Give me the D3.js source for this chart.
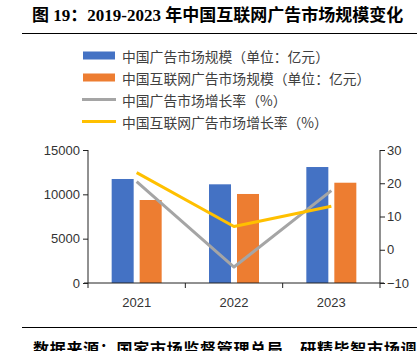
<!DOCTYPE html>
<html>
<head>
<meta charset="utf-8">
<script src="https://cdn.jsdelivr.net/npm/d3@7"></script>
<style>
  body { margin: 0; background: #fff; }
  svg { display: block; }
</style>
</head>
<body>
<div id="chart"></div>
<script>
// dati
const years = ['2021', '2022', '2023'];
const adMarket = [11730, 11130, 13080];        // 中国广告市场规模（亿元）
const netAdMarket = [9360, 10040, 11310];      // 中国互联网广告市场规模（亿元）
const adGrowth = [20.5, -5.2, 17.8];           // 中国广告市场增长率（%）
const netAdGrowth = [23.2, 7.0, 13.1];         // 中国互联网广告市场增长率（%）
const leftTicks = [0, 5000, 10000, 15000];
const rightTicks = [-10, 0, 10, 20, 30];

const legendItems = [
    { label: '中国广告市场规模（单位：亿元）', type: 'bar', color: '#4472C4' },
    { label: '中国互联网广告市场规模（单位：亿元）', type: 'bar', color: '#ED7D31' },
    { label: '中国广告市场增长率（%）', type: 'line', color: '#A5A5A5' },
    { label: '中国互联网广告市场增长率（%）', type: 'line', color: '#FFC000' }
];

const W = 417, H = 351;
const svg = d3.select('#chart').append('svg')
    .attr('width', W).attr('height', H);

// titolo
svg.append('text')
    .attr('x', 32).attr('y', 21)
    .attr('font-family', '"Liberation Serif", "Noto Sans CJK SC", serif')
    .attr('font-weight', 'bold')
    .attr('font-size', 17)
    .attr('fill', '#000')
    .text('图 19：2019-2023 年中国互联网广告市场规模变化');

svg.append('line')
    .attr('x1', 22).attr('x2', W).attr('y1', 33.5).attr('y2', 33.5)
    .attr('stroke', '#000').attr('stroke-width', 1);

// legenda
const legend = svg.append('g');
legendItems.forEach((d, i) => {
    const cy = 55.5 + i * 22;
    if (d.type === 'bar') {
        legend.append('rect')
            .attr('x', 83).attr('y', cy - 4).attr('width', 32).attr('height', 8)
            .attr('fill', d.color);
    } else {
        legend.append('line')
            .attr('x1', 82).attr('x2', 116).attr('y1', cy).attr('y2', cy)
            .attr('stroke', d.color).attr('stroke-width', 3);
    }
    legend.append('text')
        .attr('x', 122).attr('y', cy)
        .attr('dominant-baseline', 'central')
        .attr('font-family', '"Noto Sans CJK SC", sans-serif')
        .attr('font-size', 13.8)
        .attr('fill', '#404040')
        .text(d.label);
});

// scale
const plotLeft = 88, plotRight = 380, plotBottom = 283, plotTop = 150;
const x = d3.scaleBand().domain(years).range([plotLeft, plotRight]);
const yL = d3.scaleLinear().domain([0, 15000]).range([plotBottom, plotTop]);
const yR = d3.scaleLinear().domain([-10, 30]).range([plotBottom, plotTop]);
const xSub = d3.scaleBand().domain(['a', 'b']).range([-25, 25]).paddingInner(0.214);

// barre
const groups = svg.append('g').selectAll('g')
    .data(years)
    .join('g')
    .attr('transform', d => `translate(${x(d) + x.bandwidth() / 2},0)`);

groups.append('rect')
    .attr('x', xSub('a'))
    .attr('width', xSub.bandwidth())
    .attr('y', (d, i) => yL(adMarket[i]))
    .attr('height', (d, i) => plotBottom - yL(adMarket[i]))
    .attr('fill', '#4472C4');

groups.append('rect')
    .attr('x', xSub('b'))
    .attr('width', xSub.bandwidth())
    .attr('y', (d, i) => yL(netAdMarket[i]))
    .attr('height', (d, i) => plotBottom - yL(netAdMarket[i]))
    .attr('fill', '#ED7D31');

// linee
const line = d3.line()
    .x((d, i) => x(years[i]) + x.bandwidth() / 2)
    .y(d => yR(d));

svg.append('path').datum(adGrowth)
    .attr('d', line).attr('fill', 'none')
    .attr('stroke', '#A5A5A5').attr('stroke-width', 3).attr('stroke-linejoin', 'round');

svg.append('path').datum(netAdGrowth)
    .attr('d', line).attr('fill', 'none')
    .attr('stroke', '#FFC000').attr('stroke-width', 3).attr('stroke-linejoin', 'round');

// assi
const tickFont = g => g.selectAll('text')
    .attr('font-family', '"Liberation Sans", Arial, sans-serif')
    .attr('font-size', 13)
    .attr('fill', '#333');

svg.append('g')
    .attr('transform', `translate(${plotLeft},0)`)
    .call(d3.axisLeft(yL).tickValues(leftTicks).tickSize(5).tickPadding(3).tickFormat(d3.format('d')))
    .call(g => g.select('.domain').attr('d', `M0,${plotTop}V${plotBottom + 5}`))
    .call(g => g.selectAll('line, path').attr('stroke', '#222'))
    .call(tickFont);

svg.append('g')
    .attr('transform', `translate(${plotRight},0)`)
    .call(d3.axisRight(yR).tickValues(rightTicks).tickSize(5).tickPadding(2).tickFormat(d => d < 0 ? '−' + Math.abs(d) : d))
    .call(g => g.select('.domain').attr('d', `M0,${plotTop}V${plotBottom + 5}`))
    .call(g => g.selectAll('line, path').attr('stroke', '#222'))
    .call(tickFont);

// asse x con tacche ai confini delle categorie
const xAxis = svg.append('g');
xAxis.append('line')
    .attr('x1', plotLeft - 4).attr('x2', plotRight + 4).attr('y1', plotBottom).attr('y2', plotBottom)
    .attr('stroke', '#222');
xAxis.selectAll('.xtick')
    .data(years.slice(1))
    .join('line')
    .attr('class', 'xtick')
    .attr('x1', d => x(d)).attr('x2', d => x(d))
    .attr('y1', plotBottom).attr('y2', plotBottom + 5)
    .attr('stroke', '#222');
xAxis.selectAll('.xlabel')
    .data(years)
    .join('text')
    .attr('class', 'xlabel')
    .attr('x', d => x(d) + x.bandwidth() / 2)
    .attr('y', 302)
    .attr('text-anchor', 'middle')
    .attr('dominant-baseline', 'central')
    .attr('font-family', '"Liberation Sans", Arial, sans-serif')
    .attr('font-size', 13)
    .attr('fill', '#333')
    .text(d => d);

// fonte (tagliata dal bordo come nell'originale)
svg.append('line')
    .attr('x1', 22).attr('x2', W).attr('y1', 327.5).attr('y2', 327.5)
    .attr('stroke', '#000').attr('stroke-width', 1);

svg.append('text')
    .attr('x', 33).attr('y', 355)
    .attr('font-family', '"Noto Sans CJK SC", sans-serif')
    .attr('font-weight', 'bold')
    .attr('font-size', 16)
    .attr('letter-spacing', 0.7)
    .attr('fill', '#000')
    .text('数据来源：国家市场监督管理总局，研精毕智市场调研');
</script>
</body>
</html>
